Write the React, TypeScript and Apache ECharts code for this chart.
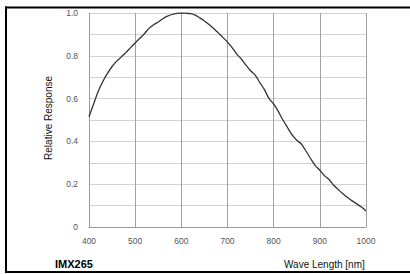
import React, { useEffect, useRef } from "react";
import * as echarts from "echarts";

const wavelengths = [400, 410, 420, 430, 440, 450, 460, 470, 480, 490, 500, 510, 520, 530, 540, 550, 560, 570, 580, 590, 600, 610, 620, 630, 640, 650, 660, 670, 680, 690, 700, 710, 720, 730, 740, 750, 760, 770, 780, 790, 800, 810, 820, 830, 840, 850, 860, 870, 880, 890, 900, 910, 920, 930, 940, 950, 960, 970, 980, 990, 1000];
const response = [0.515, 0.575, 0.634, 0.68, 0.718, 0.75, 0.775, 0.795, 0.815, 0.838, 0.86, 0.882, 0.903, 0.928, 0.945, 0.958, 0.973, 0.985, 0.993, 0.998, 1.0, 0.999, 0.997, 0.99, 0.977, 0.963, 0.946, 0.928, 0.907, 0.886, 0.864, 0.838, 0.808, 0.785, 0.756, 0.73, 0.71, 0.675, 0.642, 0.6, 0.575, 0.54, 0.5, 0.465, 0.43, 0.405, 0.388, 0.355, 0.32, 0.287, 0.265, 0.24, 0.222, 0.195, 0.175, 0.155, 0.138, 0.122, 0.108, 0.093, 0.075];
const sensorName = "IMX265";
const xAxisTitle = "Wave Length [nm]";
const yAxisTitle = "Relative Response";

export default function App() {
  const ref = useRef<HTMLDivElement>(null);
  useEffect(() => {
    if (!ref.current) return;
    const chart = echarts.init(ref.current, undefined, { renderer: "svg" });
    const font = "'Liberation Sans', Arial, sans-serif";
    chart.setOption({
      animation: false,
      backgroundColor: "#ffffff",
      title: {
        text: sensorName,
        left: 55,
        top: 258,
        padding: 0,
        textStyle: { color: "#000", fontSize: 11, fontWeight: "bold", fontFamily: font },
      },
      grid: { left: 89, top: 13, right: 44, bottom: 47, containLabel: false },
      xAxis: {
        type: "value",
        min: 400,
        max: 1000,
        interval: 100,
        axisLine: { show: true, lineStyle: { color: "#999", width: 1 } },
        axisTick: { show: false },
        axisLabel: { color: "#555", fontSize: 8.5, fontFamily: font, margin: 9, formatter: (v: number) => String(v) },
        splitLine: { show: true, lineStyle: { color: "#a0a0a0", width: 1 } },
      },
      yAxis: {
        type: "value",
        min: 0,
        max: 1,
        interval: 0.1,
        axisLine: { show: true, lineStyle: { color: "#999", width: 1 } },
        axisTick: { show: false },
        axisLabel: {
          color: "#555",
          fontSize: 8.5,
          fontFamily: font,
          margin: 11,
          formatter: (v: number) => {
            const k = Math.round(v * 10);
            if (k % 2 !== 0) return "";
            return k === 0 ? "0" : v.toFixed(1);
          },
        },
        splitLine: { show: true, lineStyle: { color: "#d2d2d2", width: 1 } },
      },
      series: [
        {
          type: "line",
          data: wavelengths.map((w, i) => [w, response[i]]),
          showSymbol: false,
          smooth: 0.2,
          lineStyle: { color: "#333", width: 1.3 },
        },
      ],
      graphic: [
        { type: "line", shape: { x1: 5, y1: 7.5, x2: 410, y2: 7.5 }, style: { stroke: "#000", lineWidth: 2 } },
        { type: "line", shape: { x1: 6, y1: 6.5, x2: 6, y2: 273 }, style: { stroke: "#000", lineWidth: 2 } },
        { type: "line", shape: { x1: 5, y1: 272, x2: 410, y2: 272 }, style: { stroke: "#000", lineWidth: 2 } },
        {
          type: "text",
          left: 284,
          top: 259,
          style: { text: xAxisTitle, fill: "#111", fontSize: 10, fontFamily: font },
        },
        {
          type: "text",
          left: 43,
          top: 76,
          style: { text: yAxisTitle, fill: "#111", fontSize: 10, fontFamily: font },
          rotation: Math.PI / 2,
        },
      ],
    });
    return () => chart.dispose();
  }, []);
  return <div ref={ref} style={{ position: "absolute", left: 0, top: 0, width: 410, height: 274 }} />;
}
